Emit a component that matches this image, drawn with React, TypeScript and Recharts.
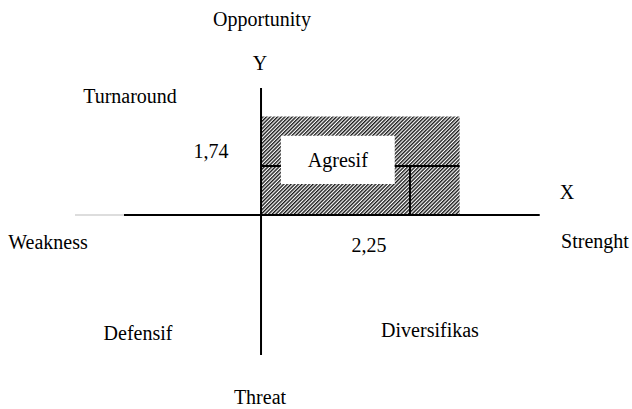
import { ComposedChart, ReferenceArea, ReferenceLine, XAxis, YAxis } from 'recharts';

// SWOT position (IFAS / EFAS scores)
const strengthScore = 2.25;
const opportunityScore = 1.74;
const scoreLabels = ['2,25', '1,74'];

const quadrantNames = ['Turnaround', 'Agresif', 'Defensif', 'Diversifikas'];
const directionNames = ['Opportunity', 'Threat', 'Weakness', 'Strenght'];
const axisNames = ['X', 'Y'];

// extents in chart units
const quadrantBox = { x: [0, 3], y: [0, 3.5] };
const agresifBox = { x: [0.3, 2.02], y: [1.1, 2.81] };
const xAxisSpan = [-2.07, 4.21];
const xAxisFaint = [-2.81, -2.07];
const yAxisSpan = [-4.97, 4.51];

const X_DOMAIN: [number, number] = [-3.943, 5.604];
const Y_DOMAIN: [number, number] = [-6.889, 7.635];

const W = 632;
const H = 409;
const FONT = "'Liberation Serif', 'Times New Roman', Times, serif";

const textSpots: { text: string; x: number; y: number }[] = [
  { text: directionNames[0], x: 262, y: 26 },
  { text: axisNames[1], x: 260, y: 70 },
  { text: quadrantNames[0], x: 130, y: 103 },
  { text: scoreLabels[1], x: 211, y: 158 },
  { text: axisNames[0], x: 567, y: 199 },
  { text: directionNames[2], x: 48, y: 249 },
  { text: directionNames[3], x: 595, y: 248 },
  { text: scoreLabels[0], x: 369, y: 252 },
  { text: quadrantNames[2], x: 138, y: 340 },
  { text: quadrantNames[3], x: 430, y: 337 },
  { text: directionNames[1], x: 260, y: 404 },
];

export default function App() {
  return (
    <div style={{ position: 'absolute', left: 0, top: 0, width: W, height: H, background: '#fff', fontFamily: FONT }}>
      <svg width={0} height={0} style={{ position: 'absolute' }}>
        <defs>
          <pattern id="hatch" patternUnits="userSpaceOnUse" width={2.6} height={2.6} patternTransform="rotate(45)">
            <rect x={0} y={0} width={2.6} height={2.6} fill="#fff" />
            <rect x={0} y={0} width={1.4} height={2.6} fill="#1a1a1a" />
          </pattern>
        </defs>
      </svg>
      <ComposedChart width={W} height={H} data={[]} margin={{ top: 0, right: 0, bottom: 0, left: 0 }}>
        <XAxis type="number" dataKey="x" domain={X_DOMAIN} hide allowDataOverflow />
        <YAxis type="number" dataKey="y" domain={Y_DOMAIN} hide allowDataOverflow />
        <ReferenceArea
          x1={quadrantBox.x[0]}
          x2={quadrantBox.x[1]}
          y1={quadrantBox.y[0]}
          y2={quadrantBox.y[1]}
          fill="url(#hatch)"
          fillOpacity={1}
          stroke="none"
        />
        <ReferenceArea
          x1={agresifBox.x[0]}
          x2={agresifBox.x[1]}
          y1={agresifBox.y[0]}
          y2={agresifBox.y[1]}
          fill="#fff"
          fillOpacity={1}
          stroke="none"
          label={{ value: quadrantNames[1], position: 'center', fill: '#000', fontSize: 20, style: { fontFamily: FONT } }}
        />
        <ReferenceLine
          segment={[{ x: 0, y: opportunityScore }, { x: agresifBox.x[0], y: opportunityScore }]}
          stroke="#000"
          strokeWidth={2}
        />
        <ReferenceLine
          segment={[{ x: agresifBox.x[1], y: opportunityScore }, { x: quadrantBox.x[1], y: opportunityScore }]}
          stroke="#000"
          strokeWidth={2}
        />
        <ReferenceLine
          segment={[{ x: strengthScore, y: 0 }, { x: strengthScore, y: opportunityScore }]}
          stroke="#000"
          strokeWidth={2}
        />
        <ReferenceLine
          segment={[{ x: xAxisFaint[0], y: 0 }, { x: xAxisFaint[1], y: 0 }]}
          stroke="#bbb"
          strokeWidth={1}
        />
        <ReferenceLine
          segment={[{ x: xAxisSpan[0], y: 0 }, { x: xAxisSpan[1], y: 0 }]}
          stroke="#000"
          strokeWidth={2}
        />
        <ReferenceLine
          segment={[{ x: 0, y: yAxisSpan[0] }, { x: 0, y: yAxisSpan[1] }]}
          stroke="#000"
          strokeWidth={2}
        />
      </ComposedChart>
      <svg width={W} height={H} style={{ position: 'absolute', left: 0, top: 0, pointerEvents: 'none' }}>
        {textSpots.map((t) => (
          <text
            key={t.text}
            x={t.x}
            y={t.y}
            textAnchor="middle"
            fontSize={20}
            fill="#000"
            style={{ fontFamily: FONT }}
          >
            {t.text}
          </text>
        ))}
      </svg>
    </div>
  );
}
